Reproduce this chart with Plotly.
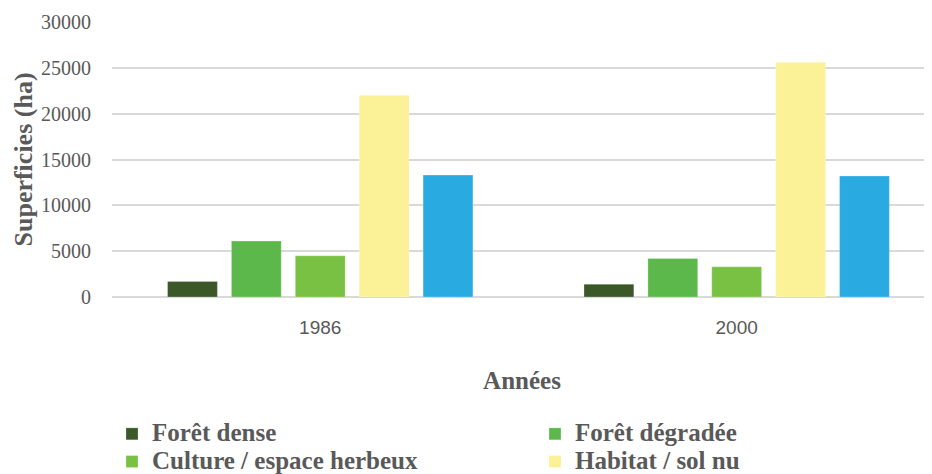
import plotly.graph_objects as go

years = ["1986", "2000"]
series_names = ["Forêt dense", "Forêt dégradée", "Culture / espace herbeux", "Habitat / sol nu", "Eau"]
foret_dense = [1700, 1400]
foret_degradee = [6100, 4200]
culture = [4500, 3300]
habitat = [22000, 25600]
eau = [13300, 13200]
y_ticks = [0, 5000, 10000, 15000, 20000, 25000, 30000]

values = [foret_dense, foret_degradee, culture, habitat, eau]
colors = ["#3b5829", "#5cb84a", "#79c143", "#fbf297", "#29abe2"]
legend_ids = ["legend", "legend2", "legend", "legend2", "legend"]

fig = go.Figure()
for name, vals, col, lg in zip(series_names, values, colors, legend_ids):
    fig.add_trace(go.Bar(
        x=years, y=vals,
        name='<span style="font-size:25px"><b>' + name + '</b></span>',
        marker=dict(color=col, line=dict(width=1, color="rgba(255,255,255,0.25)")),
        legend=lg,
    ))

# The page body has an 8px default margin: the figure is sized/positioned to compensate.
W, H = 924, 466
ML = 104
PW = W - ML
grey = "#595959"
serif = "Liberation Serif, Times New Roman, serif"
legend_common = dict(
    orientation="v", xref="container", yref="container",
    xanchor="left", yanchor="top",
    font=dict(family=serif, size=19, color=grey),
    traceorder="normal", itemclick=False, tracegroupgap=0,
    bgcolor="rgba(0,0,0,0)",
)
fig.update_layout(
    width=W, height=H,
    margin=dict(l=ML, r=0, t=14, b=177, autoexpand=False),
    plot_bgcolor="white", paper_bgcolor="white",
    barmode="group", bargap=0.233, bargroupgap=0.22,
    xaxis=dict(
        type="category", range=[-0.5, 1.469],
        showgrid=False, showline=False, zeroline=False,
        ticks="outside", ticklen=13, tickcolor="rgba(0,0,0,0)",
        tickfont=dict(family="Liberation Sans, Arial, sans-serif", size=19, color=grey),
        title=dict(text="<b>Années</b>", standoff=34,
                   font=dict(family=serif, size=25, color=grey)),
    ),
    yaxis=dict(
        range=[0, 30000], tickvals=y_ticks, ticktext=[str(v) for v in y_ticks],
        showgrid=True, gridcolor="#d9d9d9", gridwidth=1.5,
        zeroline=True, zerolinecolor="#d9d9d9", zerolinewidth=2,
        showline=False,
        ticks="outside", ticklen=16, tickcolor="rgba(0,0,0,0)",
        tickfont=dict(family=serif, size=20, color=grey),
    ),
    annotations=[dict(
        text="<b>Superficies (ha)</b>", textangle=-90,
        xref="paper", yref="paper", x=(15 - ML) / PW, y=0.5,
        xanchor="center", yanchor="middle", showarrow=False,
        font=dict(family=serif, size=26, color=grey),
    )],
    legend=dict(x=ML/W, y=1-(407/H), **legend_common),
    legend2=dict(x=527/W, y=1-(407/H), **legend_common),
    showlegend=True,
)

fig.write_html("out.html")
